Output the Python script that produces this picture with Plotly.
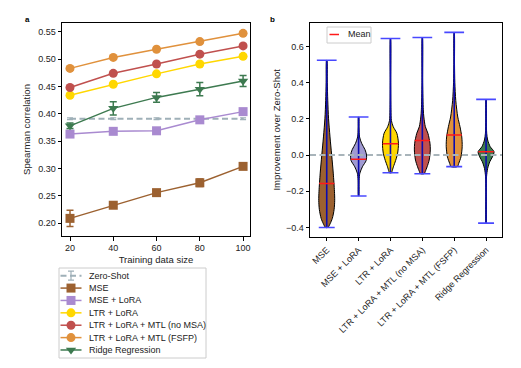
import plotly.graph_objects as go

# page body has an 8px margin: figure is sized to fit inside the 521x368 window
VIEW_W, VIEW_H, OFF = 521, 368, 8
W, H = VIEW_W - 2 * OFF, VIEW_H - 2 * OFF
FONT = "Liberation Sans, Arial, sans-serif"


def px(p):
    return (p - OFF) / W


def py(p):
    return 1 - (p - OFF) / H


# ---------------- Panel a data ----------------
train_sizes = [20, 40, 60, 80, 100]
yticks_a = [0.20, 0.25, 0.30, 0.35, 0.40, 0.45, 0.50, 0.55]

zero_shot = [0.391, 0.391, 0.391, 0.391, 0.391]
zero_shot_err = [0.0015, 0.0015, 0.0015, 0.0015, 0.0015]
mse = [0.209, 0.233, 0.256, 0.274, 0.304]
mse_err = [0.015, 0.003, 0.005, 0.007, 0.003]
mse_lora = [0.363, 0.368, 0.369, 0.389, 0.404]
mse_lora_err = [0.004, 0.004, 0.003, 0.004, 0.003]
ltr_lora = [0.434, 0.454, 0.473, 0.491, 0.505]
ltr_lora_err = [0.003, 0.003, 0.003, 0.003, 0.003]
no_msa = [0.448, 0.474, 0.491, 0.509, 0.524]
no_msa_err = [0.003, 0.003, 0.003, 0.003, 0.003]
fsfp = [0.483, 0.503, 0.518, 0.532, 0.547]
fsfp_err = [0.003, 0.003, 0.003, 0.003, 0.003]
ridge = [0.378, 0.410, 0.430, 0.445, 0.460]
ridge_err = [0.005, 0.012, 0.009, 0.012, 0.010]

series_names = ["Zero-Shot", "MSE", "MSE + LoRA", "LTR + LoRA",
                "LTR + LoRA + MTL (no MSA)", "LTR + LoRA + MTL (FSFP)",
                "Ridge Regression"]
series_vals = [zero_shot, mse, mse_lora, ltr_lora, no_msa, fsfp, ridge]
series_errs = [zero_shot_err, mse_err, mse_lora_err, ltr_lora_err,
               no_msa_err, fsfp_err, ridge_err]

# ---------------- Panel b data ----------------
categories = ["MSE", "MSE + LoRA", "LTR + LoRA", "LTR + LoRA + MTL (no MSA)",
              "LTR + LoRA + MTL (FSFP)", "Ridge Regression"]
yticks_b = [-0.4, -0.2, 0.0, 0.2, 0.4, 0.6]
zero_ref = 0.0
impr_min = [-0.400, -0.226, -0.098, -0.103, -0.064, -0.376]
impr_max = [0.523, 0.210, 0.643, 0.649, 0.677, 0.307]
impr_mean = [-0.157, -0.023, 0.062, 0.080, 0.111, 0.018]

# violin profiles: value levels (descending) and relative density (0..1)
prof_levels = [
    [0.523, 0.40, 0.30, 0.20, 0.10, 0.00, -0.10, -0.20, -0.25, -0.30, -0.35, -0.38, -0.400],
    [0.210, 0.15, 0.10, 0.065, 0.03, 0.00, -0.03, -0.065, -0.10, -0.14, -0.226],
    [0.643, 0.40, 0.25, 0.19, 0.156, 0.12, 0.065, 0.01, -0.03, -0.065, -0.09, -0.098],
    [0.649, 0.40, 0.25, 0.21, 0.156, 0.12, 0.065, 0.028, -0.028, -0.065, -0.092, -0.103],
    [0.677, 0.50, 0.40, 0.30, 0.21, 0.156, 0.10, 0.046, -0.01, -0.046, -0.064],
    [0.307, 0.20, 0.12, 0.083, 0.046, 0.018, -0.01, -0.037, -0.074, -0.12, -0.20, -0.376],
]
prof_density = [
    [0.02, 0.07, 0.13, 0.23, 0.41, 0.62, 0.82, 0.97, 1.00, 0.93, 0.70, 0.42, 0.15],
    [0.02, 0.05, 0.12, 0.38, 0.80, 1.00, 0.95, 0.48, 0.16, 0.06, 0.02],
    [0.01, 0.03, 0.06, 0.12, 0.35, 0.80, 1.00, 0.90, 0.65, 0.37, 0.20, 0.14],
    [0.01, 0.04, 0.12, 0.19, 0.38, 0.70, 0.96, 1.00, 0.86, 0.60, 0.36, 0.24],
    [0.01, 0.04, 0.08, 0.20, 0.45, 0.73, 0.95, 1.00, 0.85, 0.57, 0.40],
    [0.01, 0.03, 0.08, 0.20, 0.52, 1.00, 0.80, 0.47, 0.20, 0.06, 0.02, 0.01],
]

# ---------------- styles ----------------
style = {
    "Zero-Shot": dict(color="#9fb0b8", symbol="line-ew", dash="6px,3.5px"),
    "MSE": dict(color="#9c6130", symbol="square", dash="solid"),
    "MSE + LoRA": dict(color="#a98ad0", symbol="square", dash="solid"),
    "LTR + LoRA": dict(color="#ffd700", symbol="circle", dash="solid"),
    "LTR + LoRA + MTL (no MSA)": dict(color="#c0504e", symbol="circle", dash="solid"),
    "LTR + LoRA + MTL (FSFP)": dict(color="#e0913c", symbol="circle", dash="solid"),
    "Ridge Regression": dict(color="#3d7a50", symbol="triangle-down", dash="solid"),
}
violin_colors = ["#9c6130", "#a09ad2", "#ffd700", "#c0504e", "#e0913c", "#3d7a50"]
VHALF = 0.25
TOPCAP = 0.31
BOTCAP = 0.25
MEANHALF = 0.24

fig = go.Figure()

# ---------------- Panel a traces ----------------
for name, vals, errs in zip(series_names, series_vals, series_errs):
    st = style[name]
    if name == "Zero-Shot":
        fig.add_trace(go.Scatter(
            x=train_sizes, y=vals, mode="lines",
            line=dict(color=st["color"], width=2, dash=st["dash"]),
            error_y=dict(type="data", array=errs, color=st["color"], thickness=1.2, width=3),
            showlegend=False, xaxis="x", yaxis="y", hoverinfo="skip"))
    else:
        fig.add_trace(go.Scatter(
            x=train_sizes, y=vals, mode="lines+markers",
            line=dict(color=st["color"], width=1.5),
            marker=dict(symbol=st["symbol"], size=9, color=st["color"]),
            error_y=dict(type="data", array=errs, color=st["color"], thickness=1.5, width=3.5),
            showlegend=False, xaxis="x", yaxis="y", hoverinfo="skip"))

# ---------------- Panel a custom legend ----------------
LEG_ROW0, LEG_STEP = 7.7, 12.38
for i, name in enumerate(series_names):
    st = style[name]
    ry = LEG_ROW0 + LEG_STEP * i
    fig.add_trace(go.Scatter(
        x=[1.5, 22.5], y=[ry, ry], mode="lines",
        line=dict(color=st["color"], width=2 if name == "Zero-Shot" else 1.5,
                  dash=st["dash"]),
        showlegend=False, xaxis="x3", yaxis="y3", hoverinfo="skip"))
    if name == "Zero-Shot":
        fig.add_trace(go.Scatter(
            x=[12], y=[ry], mode="markers",
            marker=dict(size=1, color=st["color"]),
            error_y=dict(type="data", array=[4.5], color=st["color"], thickness=1.2, width=3),
            showlegend=False, xaxis="x3", yaxis="y3", hoverinfo="skip"))
    else:
        fig.add_trace(go.Scatter(
            x=[12], y=[ry], mode="markers",
            marker=dict(symbol=st["symbol"], size=9, color=st["color"]),
            showlegend=False, xaxis="x3", yaxis="y3", hoverinfo="skip"))
    fig.add_annotation(x=28.3, y=ry, xref="x3", yref="y3", text=name, showarrow=False,
                       xanchor="left", yanchor="middle",
                       font=dict(family=FONT, size=9, color="#222222"))
fig.add_shape(type="rect", xref="x3 domain", yref="y3 domain", x0=0, x1=1, y0=0, y1=1,
              line=dict(color="#cccccc", width=1))

# ---------------- Panel b traces ----------------
for i, (lv, dn, col) in enumerate(zip(prof_levels, prof_density, violin_colors)):
    xr = [i + VHALF * d for d in dn]
    xl = [i - VHALF * d for d in dn]
    xs = xr + xl[::-1] + [xr[0]]
    ys = lv + lv[::-1] + [lv[0]]
    fig.add_trace(go.Scatter(
        x=xs, y=ys, mode="lines", fill="toself", fillcolor=col,
        line=dict(color="black", width=1, shape="spline", smoothing=0.8),
        showlegend=False, xaxis="x2", yaxis="y2", hoverinfo="skip"))

bar_x, bar_y, top_x, top_y, bot_x, bot_y, mean_x, mean_y = [], [], [], [], [], [], [], []
for i in range(len(categories)):
    bar_x += [i, i, None]
    bar_y += [impr_min[i], impr_max[i], None]
    top_x += [i - TOPCAP, i + TOPCAP, None]
    top_y += [impr_max[i], impr_max[i], None]
    bot_x += [i - BOTCAP, i + BOTCAP, None]
    bot_y += [impr_min[i], impr_min[i], None]
    mean_x += [i - MEANHALF, i + MEANHALF, None]
    mean_y += [impr_mean[i], impr_mean[i], None]

fig.add_trace(go.Scatter(x=bar_x, y=bar_y, mode="lines",
                         line=dict(color="#0a0ab0", width=1.6),
                         showlegend=False, xaxis="x2", yaxis="y2", hoverinfo="skip"))
fig.add_trace(go.Scatter(x=top_x + bot_x, y=top_y + bot_y, mode="lines",
                         line=dict(color="#4848ff", width=1.6),
                         showlegend=False, xaxis="x2", yaxis="y2", hoverinfo="skip"))
fig.add_trace(go.Scatter(x=mean_x, y=mean_y, mode="lines",
                         line=dict(color="#ff1a1a", width=1.5),
                         showlegend=False, xaxis="x2", yaxis="y2", hoverinfo="skip"))
fig.add_shape(type="line", xref="x2 domain", yref="y2", x0=0, x1=1, y0=zero_ref, y1=zero_ref,
              line=dict(color="#a8b4ba", width=2, dash="6px,3.5px"), layer="above")

# ---------------- Panel b legend (Mean) ----------------
fig.add_trace(go.Scatter(x=[2.5, 12], y=[7.5, 7.5], mode="lines",
                         line=dict(color="#ff1a1a", width=1.5),
                         showlegend=False, xaxis="x4", yaxis="y4", hoverinfo="skip"))
fig.add_annotation(x=18.7, y=7.5, xref="x4", yref="y4", text="Mean", showarrow=False,
                   xanchor="left", yanchor="middle",
                   font=dict(family=FONT, size=9, color="#222222"))
fig.add_shape(type="rect", xref="x4 domain", yref="y4 domain", x0=0, x1=1, y0=0, y1=1,
              line=dict(color="#cccccc", width=1))

# ---------------- panel labels ----------------
fig.add_annotation(x=px(27), y=py(20), xref="paper", yref="paper", text="<b>a</b>",
                   showarrow=False, xanchor="center", yanchor="middle",
                   font=dict(family=FONT, size=8, color="black"))
fig.add_annotation(x=px(272), y=py(19), xref="paper", yref="paper", text="<b>b</b>",
                   showarrow=False, xanchor="center", yanchor="middle",
                   font=dict(family=FONT, size=8, color="black"))

axis_common = dict(showline=True, mirror=True, linecolor="black", linewidth=1,
                   ticks="outside", ticklen=3.5, tickwidth=1, tickcolor="black",
                   showgrid=False, zeroline=False,
                   tickfont=dict(family=FONT, size=9, color="#222222"))

fig.update_layout(
    width=W, height=H, margin=dict(l=0, r=0, t=0, b=0),
    paper_bgcolor="white", plot_bgcolor="white", showlegend=False,
    font=dict(family=FONT, size=9, color="#222222"),
    xaxis=dict(domain=[px(62), px(250)], anchor="y", range=[16.3, 103.2],
               tickvals=train_sizes,
               title=dict(text="Training data size", standoff=4,
                          font=dict(family=FONT, size=9.5)),
               **axis_common),
    yaxis=dict(domain=[py(236), py(23)], anchor="x", range=[0.1768, 0.5659],
               tickvals=yticks_a, tickformat=".2f",
               title=dict(text="Spearman correlation", standoff=5,
                          font=dict(family=FONT, size=9.5)),
               **axis_common),
    xaxis2=dict(domain=[px(310), px(502)], anchor="y2", range=[-0.525, 5.5],
                tickvals=list(range(len(categories))), ticktext=categories,
                tickangle=-45, **axis_common),
    yaxis2=dict(domain=[py(236.7), py(23)], anchor="x2", range=[-0.451, 0.729],
                tickvals=yticks_b, tickformat=".1f",
                title=dict(text="Improvement over Zero-Shot", standoff=3,
                           font=dict(family=FONT, size=9.5)),
                **axis_common),
    xaxis3=dict(domain=[px(59), px(206)], anchor="y3", range=[0, 147], visible=False),
    yaxis3=dict(domain=[py(358), py(268)], anchor="x3", range=[90, 0], visible=False),
    xaxis4=dict(domain=[px(327), px(371)], anchor="y4", range=[0, 44], visible=False),
    yaxis4=dict(domain=[py(43), py(27)], anchor="x4", range=[16, 0], visible=False),
)

fig.write_html("out.html")
